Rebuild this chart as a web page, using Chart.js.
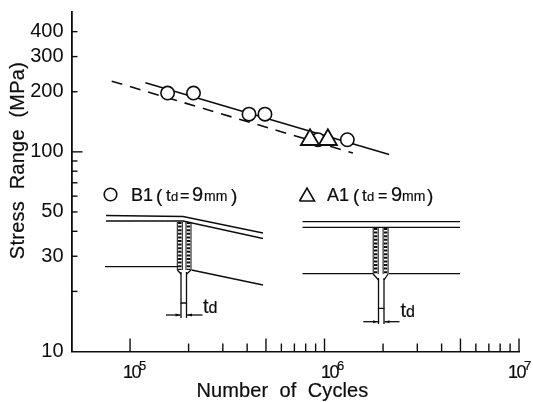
<!DOCTYPE html>
<html>
<head>
<meta charset="utf-8">
<style>
  html, body { margin: 0; padding: 0; background: #fff; }
  #wrap { width: 533px; height: 402px; }
</style>
<script src="https://cdn.jsdelivr.net/npm/chart.js@4"></script>
</head>
<body>
<div id="wrap"><canvas id="chart" width="533" height="402"></canvas></div>
<script>
// Data
const b1Cycles = [156000, 212000, 409000, 494000, 926000, 1310000];
const b1Stress = [197, 197, 154.5, 154.5, 115, 115];
const a1Cycles = [842000, 1040000];
const a1Stress = [115, 115];
const solidCycles = [120000, 2150000];
const solidStress = [222, 97];
const dashedCycles = [80500, 1400000];
const dashedStress = [226, 98.6];

// Axis ticks
const xLabelled = [1e5, 1e6, 1e7];
const xExponents = ["5", "6", "7"];
const xMarks = [1e5,2e5,3e5,4e5,5e5,6e5,7e5,8e5,9e5,1e6,2e6,3e6,4e6,5e6,6e6,7e6,8e6,9e6,1e7];
const xLongMarks = [1e5, 5e5, 1e6, 5e6, 1e7];
const yLabelled = [10, 30, 50, 100, 200, 300, 400];
const yMarks = [20, 30, 40, 50, 60, 70, 80, 90, 100, 200, 300, 400];
const yLongMarks = [100];

const INK = "#0d0d0d";
const SANS = '"Liberation Sans", Arial, sans-serif';
// where each decade label sits relative to its tick, the scan is not regular
const xLabelShift = [-7, -3.5, -11];

function pts(xs, ys) {
  return xs.map((x, i) => ({ x: x, y: ys[i] }));
}

function seg(ctx, coords) {
  ctx.beginPath();
  coords.forEach((p, i) => i ? ctx.lineTo(p[0], p[1]) : ctx.moveTo(p[0], p[1]));
  ctx.stroke();
}

// scan-heavy lettering: fill plus a hairline stroke
function text(ctx, str, x, y, size, spacing) {
  const lw = ctx.lineWidth;
  ctx.font = size + "px " + SANS;
  ctx.letterSpacing = (spacing || 0) + "px";
  ctx.fillText(str, x, y);
  ctx.lineWidth = 0.2;
  ctx.strokeText(str, x, y);
  ctx.lineWidth = lw;
}

// weld beads: little ladder columns either side of the plate
function weld(ctx, x, y1, y2) {
  ctx.lineWidth = 1;
  seg(ctx, [[x - 2.5, y1], [x - 2.5, y2]]);
  seg(ctx, [[x + 2.5, y1], [x + 2.5, y2]]);
  ctx.lineWidth = 3.4;
  ctx.setLineDash([2, 1.6]);
  seg(ctx, [[x, y1], [x, y2]]);
  ctx.setLineDash([]);
  ctx.lineWidth = 1.3;
}

function arrowPair(ctx, x1, x2, y, left, right) {
  seg(ctx, [[left, y], [x1, y]]);
  seg(ctx, [[x2, y], [right, y]]);
  ctx.fillStyle = INK;
  [[x1, -1], [x2, 1]].forEach(a => {
    ctx.beginPath();
    ctx.moveTo(a[0], y);
    ctx.lineTo(a[0] + a[1] * 5, y - 1.5);
    ctx.lineTo(a[0] + a[1] * 5, y + 1.5);
    ctx.fill();
  });
}

function drawLeftDetail(ctx) {
  ctx.lineWidth = 1.3;
  seg(ctx, [[106, 215.5], [183, 216.5], [263, 233]]);
  seg(ctx, [[106, 221], [183, 221], [263, 238.5]]);
  seg(ctx, [[105, 266.7], [178, 266.7]]);
  seg(ctx, [[191.5, 270], [263, 285]]);
  weld(ctx, 179.8, 222, 270);
  weld(ctx, 188.5, 222, 270);
  seg(ctx, [[177.3, 270], [181, 274]]);
  seg(ctx, [[191, 270], [186.7, 274]]);
  seg(ctx, [[181, 272], [181, 303], [186.5, 303], [186.5, 272]]);
  seg(ctx, [[181, 303], [181, 318]]);
  seg(ctx, [[186.5, 303], [186.5, 318]]);
  arrowPair(ctx, 180.5, 187, 315, 166, 202.5);
  ctx.fillStyle = INK;
  text(ctx, "t", 203, 313, 20);
  text(ctx, "d", 208.5, 313, 16);
}

function drawRightDetail(ctx) {
  ctx.lineWidth = 1.3;
  seg(ctx, [[302.5, 221.7], [460, 221.7]]);
  seg(ctx, [[302.5, 227.3], [460, 227.3]]);
  seg(ctx, [[302.5, 273.7], [373, 273.7]]);
  seg(ctx, [[389, 273.7], [460, 273.7]]);
  weld(ctx, 375.7, 228, 274);
  weld(ctx, 385.6, 228, 274);
  seg(ctx, [[373.2, 274], [378.5, 280]]);
  seg(ctx, [[388.1, 274], [384, 280]]);
  seg(ctx, [[378.5, 278], [378.5, 308.3], [384, 308.3], [384, 278]]);
  seg(ctx, [[378.5, 308.3], [378.5, 324]]);
  seg(ctx, [[384, 308.3], [384, 324]]);
  arrowPair(ctx, 378, 384.5, 321.7, 363.3, 399.5);
  ctx.fillStyle = INK;
  text(ctx, "t", 400.5, 316.7, 20);
  text(ctx, "d", 406, 316.7, 16);
}

function drawLegendNotes(ctx) {
  ctx.fillStyle = INK;
  ctx.textAlign = "left";
  ctx.textBaseline = "alphabetic";
  ctx.lineWidth = 1.6;
  // circle note
  ctx.beginPath();
  ctx.arc(110.5, 194.5, 6.3, 0, Math.PI * 2);
  ctx.stroke();
  text(ctx, "B1", 131, 201, 18);
  text(ctx, "(", 156, 202, 19);
  text(ctx, "t", 166, 201, 17);
  text(ctx, "d", 171, 201, 13);
  text(ctx, "=", 180, 201, 16);
  text(ctx, "9", 192, 201, 20);
  text(ctx, "mm", 204, 201, 14);
  text(ctx, ")", 231, 202, 19);
  // triangle note
  ctx.lineWidth = 1.6;
  seg(ctx, [[299.5, 201], [307, 188], [314.5, 201], [299.5, 201]]);
  text(ctx, "A1", 327, 201, 18);
  text(ctx, "(", 353, 202, 19);
  text(ctx, "t", 362, 201, 17);
  text(ctx, "d", 367, 201, 13);
  text(ctx, "=", 378, 201, 16);
  text(ctx, "9", 391, 201, 20);
  text(ctx, "mm", 402, 201, 14);
  text(ctx, ")", 427, 202, 19);
}

// inward tick marks, axis titles, decade labels and the two joint sketches
const paperExtras = {
  id: "paperExtras",
  afterDraw(chart) {
    const ctx = chart.ctx;
    const xs = chart.scales.x, ys = chart.scales.y;
    const area = chart.chartArea;
    ctx.save();
    ctx.strokeStyle = INK;
    ctx.fillStyle = INK;
    ctx.lineWidth = 1.4;
    xMarks.forEach(v => {
      const px = xs.getPixelForValue(v);
      const len = xLongMarks.includes(v) ? 13 : 8;
      seg(ctx, [[px, area.bottom], [px, area.bottom - len]]);
    });
    yMarks.forEach(v => {
      const py = ys.getPixelForValue(v);
      const len = yLongMarks.includes(v) ? 11 : 6;
      seg(ctx, [[area.left, py], [area.left + len, py]]);
    });
    // decade labels with a proper raised exponent
    ctx.textAlign = "left";
    ctx.textBaseline = "alphabetic";
    xLabelled.forEach((v, i) => {
      const px = xs.getPixelForValue(v) + xLabelShift[i];
      text(ctx, "10", px, 378, 18, -1.5);
      text(ctx, xExponents[i], px + 16, 370, 13, 0);
    });
    ctx.textAlign = "center";
    ctx.textBaseline = "middle";
    text(ctx, "Number  of  Cycles", 282.5, 391, 20, 0.1);
    ctx.save();
    ctx.translate(18, 160.5);
    ctx.rotate(-Math.PI / 2);
    text(ctx, "Stress  Range  (MPa)", 0, 0, 20, 0.25);
    ctx.restore();
    drawLegendNotes(ctx);
    drawLeftDetail(ctx);
    drawRightDetail(ctx);
    ctx.restore();
  }
};

new Chart(document.getElementById("chart").getContext("2d"), {
  type: "scatter",
  data: {
    datasets: [
      {
        label: "A1",
        data: pts(a1Cycles, a1Stress),
        pointStyle: "triangle",
        pointRadius: 10.5,
        pointBackgroundColor: "#fff",
        pointBorderColor: INK,
        pointBorderWidth: 1.8,
        order: 1
      },
      {
        label: "B1",
        data: pts(b1Cycles, b1Stress),
        pointStyle: "circle",
        pointRadius: 6.7,
        pointBackgroundColor: "#fff",
        pointBorderColor: INK,
        pointBorderWidth: 1.6,
        order: 2
      },
      {
        label: "Fit",
        data: pts(solidCycles, solidStress),
        showLine: true,
        borderColor: INK,
        borderWidth: 1.6,
        pointRadius: 0,
        order: 3
      },
      {
        label: "Lower bound",
        data: pts(dashedCycles, dashedStress),
        showLine: true,
        borderColor: INK,
        borderWidth: 1.6,
        borderDash: [11, 8],
        pointRadius: 0,
        order: 3
      }
    ]
  },
  options: {
    responsive: false,
    animation: false,
    layout: { padding: { top: 10, right: 14, bottom: 0, left: 0 } },
    plugins: { legend: { display: false }, tooltip: { enabled: false } },
    scales: {
      x: {
        type: "logarithmic",
        min: 5e4,
        max: 1e7,
        grid: { display: false, drawTicks: false },
        border: { display: true, color: INK, width: 1.6 },
        afterFit: s => { s.height = 50.5; },
        afterBuildTicks: s => { s.ticks = xLabelled.map(v => ({ value: v })); },
        ticks: { display: false }
      },
      y: {
        type: "logarithmic",
        min: 10,
        max: 500,
        grid: { display: false, drawTicks: false },
        border: { display: true, color: INK, width: 1.8 },
        afterFit: s => { s.width = 71.5; s.paddingTop = 0; s.paddingBottom = 0; },
        afterBuildTicks: s => { s.ticks = yLabelled.map(v => ({ value: v })); },
        ticks: {
          autoSkip: false,
          padding: 8,
          color: INK,
          font: { family: SANS, size: 20 },
          callback: v => String(v)
        }
      }
    }
  },
  plugins: [paperExtras]
});
</script>
</body>
</html>
